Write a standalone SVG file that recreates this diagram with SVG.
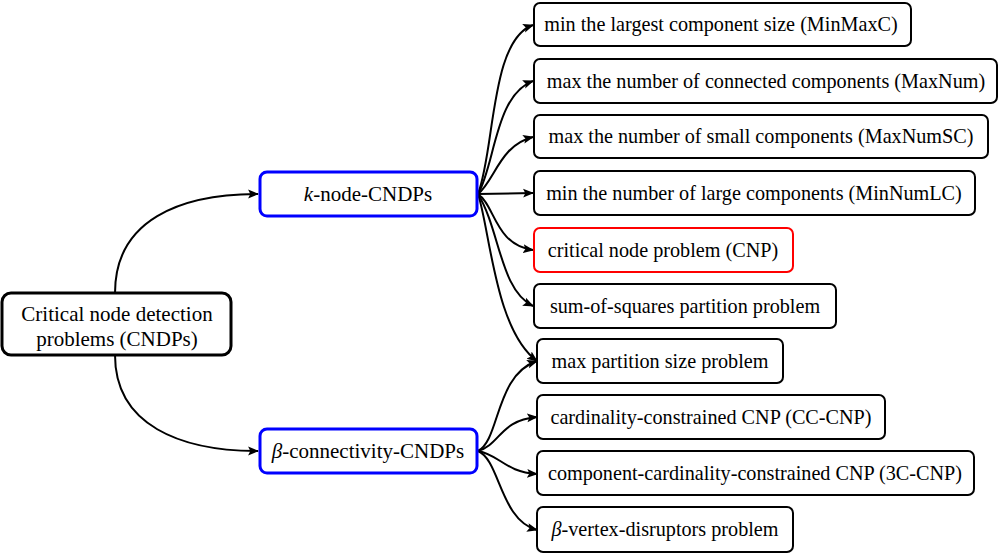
<svg xmlns="http://www.w3.org/2000/svg" width="1000" height="555" viewBox="0 0 1000 555">
<style>
.box{fill:#fff;stroke:#000;stroke-width:2}
.red{fill:#fff;stroke:#ff0000;stroke-width:2}
.blue{fill:#fff;stroke:#0000ff;stroke-width:3}
.root{fill:#fff;stroke:#000;stroke-width:3}
.edge{fill:none;stroke:#000;stroke-width:2;marker-end:url(#ah)}
.big{font-size:21px}
</style>
<defs>
<marker id="ah" viewBox="0 0 10 10" refX="9" refY="5" markerWidth="5.5" markerHeight="5.5" markerUnits="strokeWidth" orient="auto">
<path d="M0,1 L10,5 L0,9 L2,5 Z" fill="#000"/>
</marker>
</defs>
<g id="connectors">
<path class="edge" d="M115,293 C115,220 180,194 258,194"/>
<path class="edge" d="M115,355 C115,425 180,451 258,451"/>
<path class="edge" d="M478,194 C495,150 490,40 533,25"/>
<path class="edge" d="M478,194 C495,165 495,95 533,81"/>
<path class="edge" d="M478,194 C495,180 500,145 533,137"/>
<path class="edge" d="M478,194 L533,193"/>
<path class="edge" d="M478,194 C495,205 495,245 533,250"/>
<path class="edge" d="M478,194 C500,230 500,290 533,306"/>
<path class="edge" d="M478,194 C490,230 495,330 537,361"/>
<path class="edge" d="M478,451 C500,440 495,375 537,361"/>
<path class="edge" d="M478,451 C500,445 500,420 537,417"/>
<path class="edge" d="M478,451 C500,455 505,472 537,474"/>
<path class="edge" d="M478,451 C500,460 500,520 537,530"/>
</g>
<g font-family="'Liberation Serif', 'DejaVu Serif', serif" font-size="20.2" text-anchor="middle" fill="#000">
<g id="root">
<rect class="root" x="2" y="293" width="229" height="62" rx="9"/>
<text class="big" x="117" y="321">Critical node detection</text>
<text class="big" x="117" y="346">problems (CNDPs)</text>
</g>
<g id="knode">
<rect class="blue" x="260" y="172" width="217" height="44" rx="7"/>
<text class="big" x="368" y="201"><tspan font-style="italic">k</tspan>-node-CNDPs</text>
</g>
<g id="beta">
<rect class="blue" x="260" y="429" width="217" height="44" rx="7"/>
<text class="big" x="368" y="458"><tspan font-style="italic">β</tspan>-connectivity-CNDPs</text>
</g>
<g id="n1">
<rect class="box" x="534" y="3" width="377" height="43" rx="6"/>
<text x="721" y="31">min the largest component size (MinMaxC)</text>
</g>
<g id="n2">
<rect class="box" x="534" y="59" width="463" height="44" rx="6"/>
<text x="766" y="88">max the number of connected components (MaxNum)</text>
</g>
<g id="n3">
<rect class="box" x="534" y="115" width="454" height="43" rx="6"/>
<text x="761" y="143">max the number of small components (MaxNumSC)</text>
</g>
<g id="n4">
<rect class="box" x="534" y="171" width="441" height="44" rx="6"/>
<text x="754" y="200">min the number of large components (MinNumLC)</text>
</g>
<g id="n5">
<rect class="red" x="534" y="228" width="259" height="44" rx="6"/>
<text x="663" y="257">critical node problem (CNP)</text>
</g>
<g id="n6">
<rect class="box" x="534" y="284" width="302" height="44" rx="6"/>
<text x="685" y="313">sum-of-squares partition problem</text>
</g>
<g id="n7">
<rect class="box" x="537" y="339" width="246" height="44" rx="6"/>
<text x="660" y="368">max partition size problem</text>
</g>
<g id="n8">
<rect class="box" x="537" y="395" width="348" height="44" rx="6"/>
<text x="711" y="424">cardinality-constrained CNP (CC-CNP)</text>
</g>
<g id="n9">
<rect class="box" x="537" y="451" width="437" height="44" rx="6"/>
<text x="755" y="480">component-cardinality-constrained CNP (3C-CNP)</text>
</g>
<g id="n10">
<rect class="box" x="537" y="507" width="256" height="45" rx="6"/>
<text x="665" y="536"><tspan font-style="italic">β</tspan>-vertex-disruptors problem</text>
</g>
</g>
</svg>
